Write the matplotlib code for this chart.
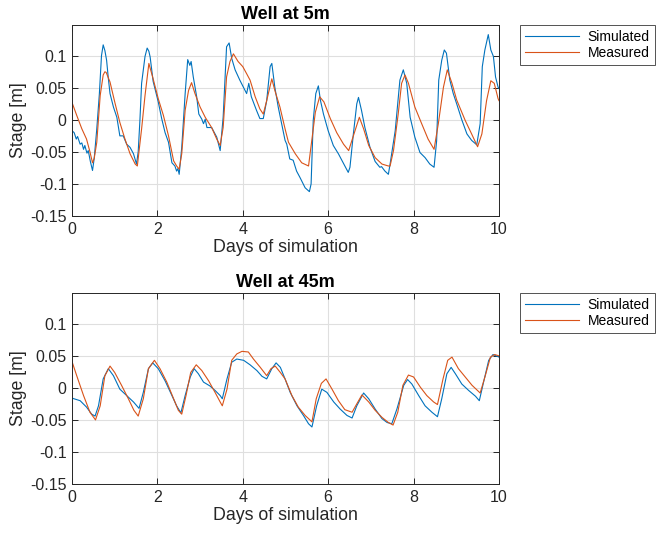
import matplotlib
matplotlib.use('Agg')
import matplotlib.pyplot as plt

plt.rcParams['font.family'] = ['Liberation Sans', 'DejaVu Sans']
plt.rcParams['axes.unicode_minus'] = False

blue = '#0072BD'
orange = '#D95319'
dark = '#262626'

# Well at 5m
days_5_sim = [0, 0.05, 0.1, 0.13, 0.19, 0.23, 0.27, 0.3, 0.35, 0.38, 0.43, 0.48, 0.52, 0.58, 0.64, 0.69,
              0.73, 0.77, 0.81, 0.85, 0.89, 0.97, 1.05, 1.12, 1.2, 1.28, 1.36, 1.44, 1.51, 1.55, 1.59, 1.63,
              1.71, 1.76, 1.8, 1.83, 1.9, 2.02, 2.1, 2.18, 2.26, 2.34, 2.41, 2.45, 2.48, 2.51, 2.57, 2.65,
              2.71, 2.76, 2.79, 2.84, 2.92, 2.97, 3.04, 3.08, 3.12, 3.16, 3.27, 3.39, 3.47, 3.54, 3.62, 3.68,
              3.74, 3.82, 3.93, 4.05, 4.09, 4.14, 4.2, 4.32, 4.4, 4.48, 4.56, 4.64, 4.68, 4.75, 4.83, 4.91,
              4.99, 5.03, 5.1, 5.18, 5.26, 5.34, 5.46, 5.56, 5.6, 5.65, 5.71, 5.77, 5.82, 5.89, 6.0, 6.12,
              6.24, 6.35, 6.47, 6.51, 6.59, 6.67, 6.71, 6.78, 6.86, 6.98, 7.1, 7.21, 7.25, 7.33, 7.41, 7.45,
              7.57, 7.68, 7.76, 7.84, 7.92, 8.03, 8.15, 8.27, 8.38, 8.48, 8.54, 8.59, 8.66, 8.72, 8.77, 8.85,
              8.93, 9.01, 9.13, 9.25, 9.36, 9.48, 9.56, 9.61, 9.67, 9.75, 9.81, 9.87, 9.92, 9.98, 10.0]
stage_5_sim = [-0.017, -0.02, -0.03, -0.026, -0.038, -0.036, -0.046, -0.04, -0.052, -0.048, -0.065, -0.079,
               -0.06, -0.014, 0.04, 0.1, 0.117, 0.108, 0.093, 0.065, 0.041, 0.02, 0.004, -0.025, -0.025,
               -0.038, -0.043, -0.053, -0.069, -0.05, -0.001, 0.057, 0.099, 0.112, 0.107, 0.098, 0.06, 0.028,
               0.002, -0.02, -0.035, -0.067, -0.072, -0.08, -0.076, -0.085, -0.043, 0.041, 0.094, 0.085,
               0.091, 0.067, 0.036, 0.009, 0.001, -0.006, 0.001, -0.012, -0.012, -0.027, -0.048, 0.004,
               0.114, 0.12, 0.096, 0.078, 0.062, 0.046, 0.041, 0.057, 0.036, 0.015, 0.002, 0.002, 0.03,
               0.083, 0.088, 0.051, 0.02, -0.006, -0.032, -0.038, -0.061, -0.063, -0.08, -0.09, -0.106,
               -0.112, -0.1, -0.001, 0.041, 0.053, 0.03, 0.009, -0.017, -0.04, -0.053, -0.067, -0.082,
               -0.074, -0.022, 0.025, 0.035, 0.015, -0.012, -0.043, -0.065, -0.074, -0.073, -0.08, -0.085,
               -0.069, -0.017, 0.062, 0.078, 0.057, 0.004, -0.027, -0.051, -0.059, -0.069, -0.074, -0.033,
               0.062, 0.093, 0.109, 0.104, 0.062, 0.041, 0.025, 0.0, -0.022, -0.032, -0.039, -0.006, 0.083,
               0.109, 0.133, 0.109, 0.099, 0.067, 0.051, 0.049]

days_5_meas = [0, 0.11, 0.23, 0.34, 0.42, 0.48, 0.52, 0.58, 0.66, 0.73, 0.77, 0.8, 0.89, 1.0, 1.12, 1.24,
               1.36, 1.48, 1.53, 1.63, 1.71, 1.8, 1.9, 2.02, 2.14, 2.26, 2.38, 2.45, 2.51, 2.57, 2.65, 2.73,
               2.8, 2.88, 3.0, 3.12, 3.27, 3.39, 3.47, 3.54, 3.62, 3.7, 3.78, 3.89, 4.0, 4.09, 4.17, 4.29,
               4.4, 4.48, 4.56, 4.68, 4.75, 4.87, 4.99, 5.07, 5.23, 5.38, 5.54, 5.62, 5.7, 5.8, 5.9, 6.05,
               6.2, 6.36, 6.48, 6.59, 6.73, 6.83, 6.95, 7.1, 7.26, 7.41, 7.45, 7.53, 7.64, 7.72, 7.8, 7.88,
               8.03, 8.19, 8.34, 8.48, 8.58, 8.7, 8.79, 8.9, 9.01, 9.21, 9.36, 9.5, 9.6, 9.71, 9.81, 9.89,
               9.98, 10.0]
stage_5_meas = [0.027, 0.007, -0.014, -0.03, -0.05, -0.067, -0.06, -0.035, 0.038, 0.07, 0.075, 0.074,
                0.059, 0.028, -0.004, -0.03, -0.053, -0.069, -0.072, -0.014, 0.038, 0.088, 0.064, 0.033,
                0.007, -0.025, -0.064, -0.072, -0.077, -0.053, 0.015, 0.046, 0.058, 0.041, 0.02, 0.004,
                -0.012, -0.03, -0.04, -0.012, 0.067, 0.091, 0.103, 0.091, 0.083, 0.072, 0.062, 0.036, 0.017,
                0.009, 0.03, 0.064, 0.046, 0.02, -0.014, -0.035, -0.053, -0.067, -0.072, -0.03, 0.012, 0.036,
                0.028, 0.002, -0.02, -0.038, -0.048, -0.025, 0.004, -0.014, -0.04, -0.059, -0.069, -0.072,
                -0.072, -0.048, 0.009, 0.057, 0.07, 0.057, 0.02, -0.006, -0.03, -0.046, -0.006, 0.051, 0.078,
                0.057, 0.031, -0.001, -0.022, -0.042, -0.022, 0.03, 0.061, 0.057, 0.033, 0.03]

# Well at 45m
days_45_sim = [0, 0.19, 0.34, 0.46, 0.54, 0.62, 0.73, 0.85, 0.97, 1.12, 1.28, 1.44, 1.57, 1.67, 1.79, 1.89,
               2.02, 2.18, 2.34, 2.45, 2.55, 2.65, 2.77, 2.86, 2.96, 3.08, 3.23, 3.35, 3.47, 3.52, 3.63, 3.74,
               3.86, 4.02, 4.17, 4.33, 4.45, 4.56, 4.68, 4.78, 4.88, 4.99, 5.11, 5.27, 5.42, 5.54, 5.62, 5.73,
               5.85, 5.97, 6.13, 6.28, 6.44, 6.56, 6.67, 6.83, 6.95, 7.1, 7.26, 7.38, 7.49, 7.61, 7.77, 7.86,
               7.96, 8.12, 8.27, 8.43, 8.56, 8.66, 8.78, 8.88, 8.98, 9.13, 9.29, 9.45, 9.54, 9.64, 9.76, 9.86,
               10.0]
stage_45_sim = [-0.016, -0.02, -0.03, -0.041, -0.044, -0.028, 0.014, 0.03, 0.019, -0.002, -0.012, -0.022,
                -0.032, -0.007, 0.03, 0.039, 0.03, 0.011, -0.012, -0.028, -0.039, -0.012, 0.017, 0.03, 0.022,
                0.009, 0.003, -0.004, -0.012, -0.017, 0.014, 0.04, 0.045, 0.043, 0.036, 0.027, 0.018, 0.014,
                0.03, 0.039, 0.032, 0.014, -0.007, -0.028, -0.043, -0.056, -0.061, -0.028, -0.002, -0.007,
                -0.022, -0.033, -0.043, -0.047, -0.028, -0.008, -0.017, -0.033, -0.048, -0.054, -0.056,
                -0.033, 0.004, 0.013, 0.006, -0.012, -0.028, -0.038, -0.045, -0.017, 0.022, 0.032, 0.022,
                0.006, -0.004, -0.013, -0.02, 0.009, 0.043, 0.052, 0.048]

days_45_meas = [0, 0.11, 0.27, 0.42, 0.55, 0.66, 0.77, 0.89, 1.0, 1.16, 1.32, 1.45, 1.55, 1.67, 1.79, 1.93,
                2.06, 2.22, 2.38, 2.49, 2.57, 2.67, 2.78, 2.91, 3.04, 3.2, 3.35, 3.47, 3.52, 3.63, 3.74, 3.86,
                3.98, 4.13, 4.25, 4.41, 4.56, 4.66, 4.76, 4.88, 4.99, 5.15, 5.3, 5.46, 5.62, 5.72, 5.84, 5.95,
                6.09, 6.24, 6.39, 6.56, 6.67, 6.79, 6.95, 7.1, 7.26, 7.41, 7.52, 7.63, 7.75, 7.88, 8.0, 8.16,
                8.31, 8.47, 8.56, 8.69, 8.8, 8.9, 9.05, 9.21, 9.37, 9.56, 9.68, 9.8, 9.9, 10.0]
stage_45_meas = [0.041, 0.019, -0.012, -0.038, -0.05, -0.028, 0.019, 0.034, 0.024, 0.004, -0.017, -0.035,
                 -0.044, -0.017, 0.03, 0.043, 0.03, 0.009, -0.017, -0.035, -0.041, -0.012, 0.024, 0.036,
                 0.027, 0.011, -0.007, -0.022, -0.028, -0.002, 0.043, 0.053, 0.057, 0.056, 0.045, 0.032,
                 0.019, 0.03, 0.034, 0.024, 0.014, -0.012, -0.03, -0.043, -0.053, -0.017, 0.007, 0.014,
                 -0.002, -0.02, -0.034, -0.038, -0.025, -0.011, -0.022, -0.035, -0.046, -0.054, -0.058,
                 -0.038, 0.004, 0.02, 0.017, 0.001, -0.012, -0.022, -0.026, 0.014, 0.043, 0.048, 0.03,
                 0.017, 0.004, -0.008, 0.019, 0.048, 0.052, 0.05]

y_ticks = [-0.15, -0.1, -0.05, 0, 0.05, 0.1]
y_tick_labels = ['-0.15', '-0.1', '-0.05', '0', '0.05', '0.1']
x_ticks = [0, 2, 4, 6, 8, 10]

fig = plt.figure(figsize=(6.65, 5.35), dpi=100)
ax_top = fig.add_axes([0.1083, 0.5963, 0.642, 0.357])
ax_bot = fig.add_axes([0.1083, 0.0953, 0.642, 0.357])

panels = [
    (ax_top, 'Well at 5m', days_5_sim, stage_5_sim, days_5_meas, stage_5_meas),
    (ax_bot, 'Well at 45m', days_45_sim, stage_45_sim, days_45_meas, stage_45_meas),
]

for ax, title, ds, ss, dm, sm in panels:
    ax.plot(ds, ss, color=blue, lw=0.8, label='Simulated')
    ax.plot(dm, sm, color=orange, lw=0.8, label='Measured')
    ax.set_xlim(0, 10)
    ax.set_ylim(-0.15, 0.148)
    ax.set_xticks(x_ticks)
    ax.set_yticks(y_ticks)
    ax.set_yticklabels(y_tick_labels)
    ax.grid(True, color='#dfdfdf', lw=0.8)
    ax.set_axisbelow(True)
    ax.tick_params(direction='in', length=4, width=0.7, top=True, right=True,
                   labelsize=11.5, colors=dark, pad=4)
    for sp in ax.spines.values():
        sp.set_color(dark)
        sp.set_linewidth(0.7)
    ax.set_title(title, fontsize=13, fontweight='bold', color='black', pad=4)
    ax.set_xlabel('Days of simulation', fontsize=12.8, color=dark, labelpad=2)
    ax.set_ylabel('Stage [m]', fontsize=12.8, color=dark, labelpad=2)
    leg = ax.legend(loc='upper left', bbox_to_anchor=(1.05, 1.0), fontsize=10,
                    handlelength=3.9, frameon=True, fancybox=False, borderaxespad=0,
                    labelspacing=0.15, handletextpad=0.6, borderpad=0.35)
    leg.get_frame().set_edgecolor(dark)
    leg.get_frame().set_linewidth(0.7)
    for t in leg.get_texts():
        t.set_color('black')

fig.savefig('out.png', dpi=100, facecolor='white')
